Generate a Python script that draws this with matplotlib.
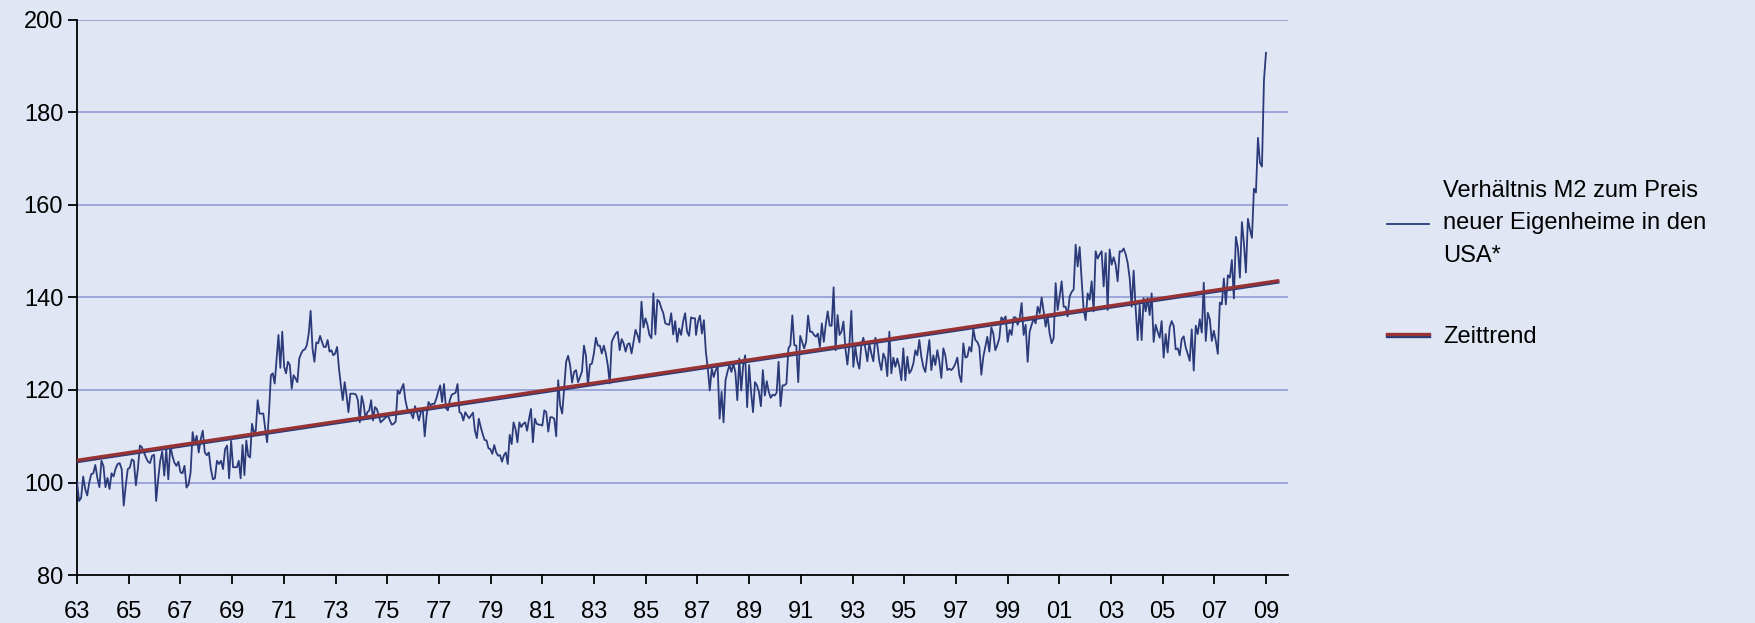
import numpy as np
import matplotlib
matplotlib.use("Agg")
import matplotlib.pyplot as plt
import matplotlib.patheffects as pe

plt.rcParams['font.family'] = ['Liberation Sans', 'DejaVu Sans']

# ratio M2 / price of new homes in pieces of ~6 years
m2_6369 = [100, 96, 96.7, 101.3, 98.6, 97.2, 100, 101.8, 102, 103.8, 101, 99, 104.7, 103.6, 99, 101,
           98.6, 102, 101.3, 103, 104, 104.2, 102.9, 95, 99.3, 102.9, 103.2, 105, 104.7, 99.4, 103, 108,
           107.6, 106.5, 105.4, 104.5, 104.2, 105.8, 106, 96, 100.7, 104.7, 106.7, 101.5, 107.2, 100.7,
           108, 105.8, 104.3, 103.6, 104.5, 102.2, 102, 103.6, 98.9, 99.6, 102.2, 110.9, 108.3, 110.1,
           106.5, 109.4, 111.2, 106.5, 105.9, 106.5, 102.9, 100.7, 100.9, 104.7, 104, 104.7, 102.9,
           107.2, 108, 100.9, 109]
m2_6975 = [103.3, 103.3, 103.3, 104.7, 100.9, 108.1, 101.6, 109.1, 105.8, 105.4, 112.7, 110.9, 111.2,
           117.8, 114.9, 114.9, 114.9, 111.6, 108.7, 115.2, 123.2, 123.6, 121.4, 126.8, 131.9, 124.8,
           132.6, 125, 123.6, 126.1, 125.4, 120.3, 123.2, 122.5, 121.7, 126.8, 127.9, 128.6, 128.8,
           129.7, 132.2, 137.1, 129, 126.1, 130.3, 130.1, 131.7, 130.4, 129.3, 129.3, 130.8, 128.3,
           128.6, 127.5, 127.9, 129.3, 124.6, 121, 117.8, 121.7, 118.8, 115.2, 119.2, 119.2, 119.2,
           119, 117.8, 113, 118.7, 117, 113.8, 115.2, 115.6, 117.8, 113.4, 116.3, 115.9, 114.5, 113,
           113.4, 113.8]
m2_7581 = [114.1, 114.5, 113.4, 112.5, 112.7, 113.2, 119.9, 119.2, 120.3, 121.3, 117.8, 115.9, 115.6,
           114.9, 113.9, 116.5, 115.2, 113.4, 115.2, 115.9, 110, 114.5, 117.4, 116.7, 117, 117, 118.1,
           119.6, 121, 117.4, 121.3, 116.1, 115.6, 117.8, 119, 119.2, 119.4, 121.3, 115.2, 114.9,
           113.4, 115.2, 114.5, 113.9, 114.5, 115.1, 111.2, 109.6, 113.8, 112, 110.5, 109.2, 109.1,
           107.4, 107.2, 106.2, 108.1, 106.5, 105.8, 105.9, 104.5, 105.9, 106.5, 104, 110.3, 108.3,
           113, 111.6, 108.7, 113, 112, 112.7, 113, 111.2, 113.8, 115.9, 108.7, 113.8, 112.7, 112.5]
m2_8187 = [112.5, 112.3, 115.6, 115.2, 111, 114.1, 114.1, 113.8, 110, 122.1, 116.7, 114.9, 120.3,
           126.1, 127.4, 125.4, 121.6, 123.9, 124.3, 121.7, 122.8, 124, 129.6, 127.4, 121, 125.5,
           125.7, 127.9, 131.3, 129.6, 129.6, 127.9, 129.6, 127.9, 125.4, 121.4, 130.4, 131.4, 132.2,
           132.6, 128.6, 131, 130.1, 128.3, 129.9, 130.1, 127.9, 130.4, 133, 131.9, 130.3, 139.1,
           133.5, 135.5, 134.1, 131.9, 131.2, 140.9, 132, 139.5, 139.1, 137.7, 136.6, 134.4, 134.2,
           134.1, 136.6, 132, 134.9, 130.4, 133.3, 131.9, 134.8, 136.6, 132.6, 131.7, 135.7, 135.5,
           135.5]
m2_8793 = [131.9, 134.8, 136.1, 132.2, 135.1, 128.3, 124.6, 119.9, 124.6, 122.8, 124.3, 125, 113.8,
           119.6, 113, 122.1, 123.9, 125.4, 123.9, 125.7, 123.9, 117.8, 126.8, 119.9, 125.4, 127.5,
           116.3, 125.4, 119.6, 115.2, 121.7, 121, 119.6, 116.5, 124.3, 118.8, 121.9, 119.6, 118.3,
           119, 118.8, 119.4, 126.1, 116.5, 121, 121, 121.4, 129, 129.7, 136.1, 129.7, 129.6, 121.7,
           131.7, 130.4, 129, 130.4, 136.1, 132.6, 132.6, 131.9, 131.5, 132.2, 129.3, 134.4, 130.4,
           134.2, 137, 133.9, 133.9, 142.2, 128.6, 136.2, 131.9, 132.6, 134.8, 129, 125.5, 129.7]
m2_9399 = [137.1, 125, 129.3, 126.2, 124.6, 129.7, 131.3, 129, 126.2, 130.1, 127.9, 126.2, 131.3,
           129.7, 126.2, 124.3, 127.9, 126.8, 123, 132.6, 123.6, 127, 125, 126.8, 125, 122.1, 129,
           122.1, 127.2, 123.6, 124.3, 125.7, 128.6, 127.5, 130.8, 127.2, 125, 123.9, 127.5, 130.8,
           124.3, 127.5, 125.4, 128.6, 126.2, 122.6, 129, 127.5, 124.3, 124.6, 124.3, 124.8, 125.7,
           127, 123.2, 121.7, 130.1, 127, 127.2, 129.3, 128.3, 133.2, 130.8, 130.4, 129.3, 123.3,
           127.2, 129.3, 131.5, 128.3, 133.5, 132.2, 128.6, 129.7, 131.2, 135.7, 135.1]
m2_9905 = [135.9, 130.4, 133, 131.9, 135.7, 135.7, 134.1, 135.5, 138.8, 131.9, 134.1, 126.1, 132.6,
           134.1, 135.4, 134.4, 138, 136.6, 140, 137, 133.7, 135.9, 132.2, 130.1, 131.2, 143.1, 137.3,
           140.2, 143.5, 138, 138, 135.9, 140.2, 141.2, 141.7, 151.4, 146.7, 150.9, 143.8, 137.3,
           135.1, 140.9, 139.5, 143.5, 137, 150, 148.4, 149.3, 150, 142.4, 149.6, 137.3, 150.4, 147.1,
           148.7, 147.1, 143.5, 150, 149.9, 150.6, 149.4, 147.5, 144.2, 138, 145.8, 137.7, 130.8,
           138.4, 130.8, 139.9, 137, 139.9, 136.2, 140.9, 130.4, 134.1, 132.6, 131.3]
m2_0509 = [134.9, 127, 132.1, 128.1, 133.5, 134.9, 133.9, 128.8, 129, 127.5, 131, 131.6, 129.2, 127.8,
           126.3, 133.1, 124.2, 133.9, 132.1, 135.3, 132.4, 143.2, 130.6, 136.7, 135.3, 130.6, 132.8,
           130.6, 127.8, 138.9, 138.5, 144.1, 138.5, 144.8, 144.3, 148.1, 139.8, 153.1, 150.7, 144.3,
           156.3, 151.8, 145.4, 157, 154.7, 152.9, 163.5, 162.7, 174.5, 169.1, 168.3, 187, 192.9]

# first and last date of every piece
seg_start = [1963.0, 1969.035, 1974.953, 1980.923, 1986.946, 1992.955, 1998.925, 2004.96]
seg_end = [1968.96, 1974.889, 1980.859, 1986.907, 1992.878, 1998.835, 2004.883, 2008.997]
seg_values = [m2_6369, m2_6975, m2_7581, m2_8187, m2_8793, m2_9399, m2_9905, m2_0509]

# linear time trend
trend_years = [1963.0, 2009.45]
trend_values = [104.8, 143.6]

label_ratio = "Verhältnis M2 zum Preis\nneuer Eigenheime in den\nUSA*"
label_trend = "Zeittrend"

years = np.concatenate([np.linspace(s, e, len(v)) for s, e, v in zip(seg_start, seg_end, seg_values)])
values = np.concatenate([np.array(v, dtype=float) for v in seg_values])

BG = '#E0E6F4'
BLUE = '#2B3B7A'
fig = plt.figure(figsize=(17.56, 6.23), dpi=100, facecolor=BG)
ax = fig.add_axes([0.0439, 0.077, 0.6896, 0.891])
ax.set_facecolor(BG)

ax.plot(years, values, color=BLUE, lw=1.3, label=label_ratio, zorder=3)
# red trend with a thin blue edge underneath, like the original
ax.plot(trend_years, trend_values, color='#993333', lw=2.4, label=label_trend, zorder=4,
        path_effects=[pe.SimpleLineShadow(offset=(0, -0.9), shadow_color=BLUE, alpha=1, rho=1),
                      pe.Normal()])

ax.set_xlim(1963, 2009.85)
ax.set_ylim(80, 200)
ax.set_yticks(np.arange(80, 201, 20))
xt = np.arange(1963, 2010, 2)
ax.set_xticks(xt)
ax.set_xticklabels([f"{y % 100:02d}" for y in xt])

for y in range(100, 201, 20):
    ax.axhline(y, color='#9DA7D8', lw=1.4, zorder=1)

for s in ['top', 'right']:
    ax.spines[s].set_visible(False)
for s in ['left', 'bottom']:
    ax.spines[s].set_color('black')
    ax.spines[s].set_linewidth(1.3)
ax.tick_params(axis='both', direction='out', length=6.5, width=1.3, labelsize=17, colors='black')
ax.tick_params(axis='x', pad=12)

leg = ax.legend(loc='upper left', bbox_to_anchor=(0.7775, 0.745), bbox_transform=fig.transFigure,
                frameon=False, fontsize=17, handlelength=1.8, handletextpad=0.6, labelspacing=2.5)
for t in leg.get_texts():
    t.set_linespacing(1.6)

fig.savefig("out.png", dpi=100, facecolor=BG)
